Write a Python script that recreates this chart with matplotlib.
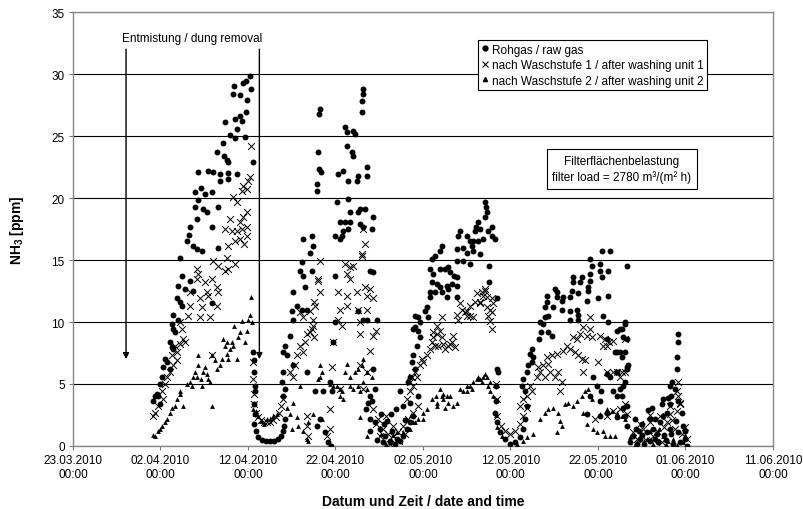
import numpy as np
import pandas as pd
import matplotlib
matplotlib.use("Agg")
import matplotlib.pyplot as plt
import matplotlib.dates as mdates
from matplotlib.lines import Line2D

plt.rcParams['font.family'] = ['Liberation Sans', 'DejaVu Sans']
plt.rcParams['mathtext.fontset'] = 'custom'
plt.rcParams['mathtext.rm'] = 'Liberation Sans'
plt.rcParams['mathtext.bf'] = 'Liberation Sans:bold'

# days after 23.03.2010 00:00, NH3 in ppm
raw_gas = [
    (20.2, 29.8), (19.8, 29.4), (19.4, 29.3), (18.4, 29.0), (18.3, 28.4), (19.1, 28.3), (19.9, 27.9),
    (19.8, 26.9), (19.1, 26.6), (18.5, 26.4), (17.4, 26.1), (19.3, 26.2), (17.9, 25.1), (18.5, 24.8),
    (19.7, 24.9), (17.1, 24.4), (16.5, 23.7), (17.6, 23.1), (17.7, 22.9), (20.6, 22.9), (14.3, 22.1),
    (15.4, 22.2), (16.0, 22.1), (16.8, 21.9), (17.7, 22.0), (18.7, 21.9), (16.8, 21.4), (17.7, 21.5),
    (13.9, 20.5), (15.1, 20.3), (14.3, 19.8), (15.9, 20.5), (16.6, 19.3), (13.9, 19.3), (14.9, 19.1),
    (15.3, 18.9), (14.2, 18.3), (15.9, 17.7), (13.4, 17.7), (13.0, 16.5), (13.7, 16.1), (14.2, 15.9),
    (14.7, 15.7), (12.2, 15.2), (16.6, 16.0), (12.5, 13.7), (13.4, 13.3), (12.0, 12.9), (12.8, 12.7),
    (13.7, 12.5), (11.9, 11.9), (12.2, 11.6), (12.5, 11.3), (11.4, 10.6), (15.9, 11.5), (11.3, 9.8),
    (11.4, 9.4), (11.7, 9.2), (11.1, 8.4), (11.3, 8.0), (11.4, 7.8), (10.5, 7.0), (10.7, 6.8),
    (10.3, 6.4), (11.1, 6.2), (10.2, 5.6), (9.6, 4.2), (9.4, 4.0), (9.7, 4.0), (9.1, 3.6), (9.9, 3.4),
    (10.0, 5.0), (12.0, 10.2), (13.2, 17.0), (14.6, 20.8), (17.2, 23.4), (18.8, 25.6), (20.4, 28.8),
    # valley 1
    (20.6, 7.6), (20.7, 6.9), (20.7, 6.0), (20.8, 4.8), (20.8, 4.4), (20.7, 3.4), (20.8, 2.6),
    (20.7, 1.8), (20.9, 1.2), (21.1, 0.7), (21.6, 0.5), (22.1, 0.4), (22.5, 0.4), (23.0, 0.4),
    (23.4, 0.6), (23.8, 0.8), (24.0, 1.2), (24.1, 1.6), (24.2, 2.2), (24.0, 4.0), (24.2, 4.6),
    # cycle 2
    (28.2, 27.2), (28.1, 26.8), (33.1, 28.8), (33.1, 28.4), (33.0, 27.8), (33.0, 26.9), (31.1, 25.7),
    (31.3, 25.3), (32.0, 25.4), (32.2, 25.2), (31.3, 24.2), (31.9, 23.7), (32.0, 23.4), (28.0, 23.7),
    (28.1, 22.3), (28.3, 22.1), (30.3, 21.9), (30.9, 22.2), (31.4, 21.4), (32.5, 21.4), (32.6, 21.8),
    (33.6, 22.5), (33.6, 21.8), (27.9, 21.1), (27.9, 20.6), (30.2, 19.7), (31.4, 19.9), (31.7, 18.9),
    (32.6, 18.9), (31.1, 18.1), (31.7, 18.1), (30.5, 18.1), (33.1, 17.7), (32.8, 17.9), (34.3, 18.5),
    (34.2, 17.5), (30.9, 17.3), (31.4, 17.5), (32.8, 19.1), (33.4, 19.1), (26.3, 16.7), (27.3, 16.9),
    (27.4, 16.1), (29.9, 16.9), (30.7, 16.9), (30.5, 16.7), (27.1, 15.6), (26.2, 14.8), (25.9, 14.1),
    (26.3, 13.7), (27.3, 14.1), (29.9, 13.7), (25.1, 12.4), (26.5, 12.8), (25.6, 11.3), (25.1, 10.2),
    (26.2, 11.0), (26.7, 11.0), (25.0, 10.9), (24.8, 8.9), (24.2, 8.1), (24.0, 7.6), (24.5, 7.3),
    (25.1, 6.5), (24.0, 6.0), (26.7, 6.0), (23.9, 5.2), (29.7, 8.4), (29.9, 10.0), (33.1, 10.2),
    (33.6, 10.2), (27.7, 4.4), (28.6, 4.4), (29.4, 5.2), (29.6, 4.4), (33.9, 14.1), (34.3, 14.0),
    (32.6, 10.9), (34.7, 10.2), (34.3, 6.2), (34.5, 4.6), (34.2, 3.6), (27.9, 1.6), (28.8, 1.1),
    (29.1, 0.3), (29.5, 0.0), (28.2, 2.2),
    # valley 2
    (33.9, 4.0), (33.7, 3.5), (33.5, 3.0), (33.9, 2.2), (34.5, 1.9), (35.1, 1.4), (35.7, 0.8),
    (36.2, 0.4), (36.8, 0.2), (37.4, 0.4), (37.7, 0.8), (38.2, 1.4), (38.5, 1.9), (38.9, 2.4),
    (37.4, 4.4), (37.7, 3.2), (38.5, 3.5), (39.4, 4.0), (35.4, 0.3), (36.5, 1.2), (35.9, 2.0),
    (34.0, 1.2), (34.8, 0.5), (35.6, 1.8), (36.3, 2.6), (37.0, 0.6), (37.9, 2.1), (36.9, 3.0),
    (35.2, 2.6),
    # cycle 3
    (47.1, 19.7), (47.2, 19.3), (47.3, 18.9), (47.1, 18.5), (46.3, 18.1), (46.1, 17.7), (46.5, 17.5),
    (45.9, 17.3), (47.9, 17.7), (47.4, 17.3), (47.9, 16.9), (48.2, 16.7), (46.9, 16.7), (46.3, 16.5),
    (45.7, 16.5), (45.0, 16.9), (45.4, 16.5), (45.6, 16.1), (44.2, 17.3), (44.0, 16.9), (44.6, 16.0),
    (43.9, 15.9), (45.0, 15.6), (45.7, 15.7), (46.5, 15.5), (42.2, 16.1), (41.9, 15.7), (41.4, 15.3),
    (41.0, 15.1), (45.4, 14.7), (44.6, 14.9), (43.9, 14.9), (40.8, 14.3), (41.1, 13.9), (41.9, 14.3),
    (42.5, 14.3), (42.9, 14.4), (43.1, 14.0), (43.5, 13.7), (43.9, 13.6), (43.3, 13.1), (42.7, 12.9),
    (41.9, 12.8), (41.6, 13.1), (41.0, 13.2), (40.8, 12.4), (41.4, 12.4), (42.2, 12.4), (42.9, 12.7),
    (43.9, 12.9), (42.7, 12.0), (40.8, 12.0), (43.9, 12.0), (40.5, 11.2), (40.2, 10.9), (40.6, 10.4),
    (39.4, 10.4), (39.1, 10.5), (39.7, 10.0), (39.1, 9.6), (38.9, 9.4), (39.4, 9.3), (39.7, 8.8),
    (39.3, 8.1), (38.9, 7.3), (38.7, 6.8), (39.1, 6.2), (38.5, 5.6), (38.3, 5.2), (47.6, 14.5),
    (48.5, 11.9), (48.6, 6.0), (47.6, 13.2),
    # valley 3
    (48.2, 2.7), (48.5, 1.9), (48.8, 1.1), (49.4, 0.6), (49.9, 0.2), (50.5, 0.3), (51.1, 0.7),
    (51.4, 1.4), (51.7, 2.2), (51.9, 3.2), (48.3, 4.8), (48.4, 3.6), (48.5, 6.2),
    # cycle 4
    (60.5, 15.7), (61.4, 15.7), (59.1, 15.1), (59.3, 14.5), (60.2, 14.7), (60.2, 14.1), (61.1, 14.1),
    (63.3, 14.5), (57.1, 13.6), (58.2, 13.6), (57.9, 13.2), (57.1, 13.2), (59.1, 13.9), (59.1, 13.3),
    (58.9, 12.8), (60.5, 13.6), (58.9, 12.5), (57.0, 12.5), (57.7, 12.3), (58.7, 11.7), (60.0, 11.9),
    (61.1, 12.1), (55.1, 12.7), (55.3, 12.4), (54.2, 12.1), (55.3, 12.0), (56.0, 12.0), (54.2, 11.6),
    (54.9, 11.2), (55.9, 11.0), (53.9, 11.2), (56.8, 12.0), (55.9, 11.7), (56.8, 10.9), (57.6, 11.0),
    (57.7, 10.6), (57.7, 10.2), (56.8, 10.2), (54.3, 10.5), (53.9, 10.4), (60.6, 10.5), (61.1, 10.0),
    (61.0, 8.6), (62.2, 9.3), (62.7, 9.4), (61.9, 7.6), (62.7, 7.2), (63.3, 8.6), (53.4, 10.0),
    (53.7, 9.8), (53.5, 9.2), (54.3, 9.2), (54.7, 8.9), (53.3, 8.6), (52.5, 7.8), (52.2, 7.4),
    (52.6, 7.2), (52.5, 6.8), (52.0, 6.5), (51.9, 6.0), (51.4, 5.4), (51.3, 4.8), (51.7, 4.4),
    (59.4, 5.6), (59.9, 4.8), (61.4, 5.6), (61.7, 4.4), (62.2, 4.0), (63.3, 6.2), (59.1, 4.0),
    (60.2, 3.6), (61.0, 2.7), (63.3, 3.2), (62.2, 2.3), (58.7, 2.6), (60.2, 2.4), (63.1, 9.8),
    (62.5, 9.4), (62.2, 7.6), (62.5, 7.6), (63.4, 6.5), (62.2, 6.0), (61.0, 5.8), (60.4, 4.4),
    (62.5, 4.6), (63.1, 5.2),
    # valley 4
    (63.1, 10.0), (62.9, 8.8), (63.1, 7.6), (63.3, 6.4), (62.9, 4.8), (62.8, 4.0), (62.9, 3.1),
    (63.1, 2.4), (63.3, 1.6), (64.0, 0.8), (64.8, 0.6), (65.6, 1.1), (66.3, 1.4), (67.1, 1.9),
    (66.5, 2.2), (67.4, 2.4), (67.3, 3.4), (67.4, 3.8), (68.0, 3.9), (67.9, 2.7), (65.9, 2.2),
    (66.7, 1.0), (68.2, 1.4), (69.1, 1.1), (69.7, 1.6), (69.9, 0.6), (70.2, 0.0), (63.7, 0.3),
    (64.5, 0.2), (68.6, 0.2), (69.1, 9.0), (69.1, 8.4), (69.0, 7.2), (69.0, 6.2), (68.5, 5.2),
    (68.2, 4.8), (68.8, 4.6), (68.3, 4.0), (69.1, 3.6), (68.2, 3.4), (69.6, 2.7), (65.0, 1.8),
    (66.0, 0.4), (67.5, 0.9), (64.3, 1.4), (68.9, 2.0), (65.3, 0.2), (66.9, 0.3), (64.2, 2.2),
    (65.7, 2.9), (66.2, 3.1), (67.8, 0.5), (68.4, 1.0), (64.7, 1.2), (66.5, 0.6), (65.0, 0.9),
    (69.4, 0.3), (70.0, 1.2),
]

wash_1 = [
    (20.4, 24.2), (20.2, 21.7), (20.0, 21.4), (19.4, 21.0), (19.9, 20.7), (19.3, 20.6), (18.3, 20.1),
    (18.7, 19.7), (19.9, 18.9), (19.4, 18.5), (19.1, 18.1), (18.0, 18.3), (19.9, 17.7), (19.3, 17.5),
    (18.7, 17.3), (18.2, 17.3), (17.4, 17.5), (19.9, 16.9), (19.1, 16.7), (18.5, 16.5), (17.7, 16.1),
    (19.5, 16.3), (16.0, 14.9), (17.6, 15.2), (16.6, 14.5), (17.4, 14.1), (18.5, 14.7), (17.7, 14.3),
    (14.2, 14.3), (14.3, 13.9), (14.2, 13.5), (15.1, 13.2), (15.9, 13.5), (16.5, 12.8), (15.3, 12.4),
    (16.6, 12.4), (13.4, 12.4), (14.5, 11.9), (15.4, 12.1), (14.7, 11.2), (16.5, 11.3), (15.7, 10.4),
    (14.5, 10.4), (13.4, 11.3), (13.1, 10.5), (12.2, 10.0), (12.5, 9.4), (12.6, 8.6), (12.2, 8.2),
    (12.8, 8.4), (11.7, 8.1), (11.9, 7.6), (11.3, 7.3), (11.9, 6.9), (11.4, 6.5), (11.1, 6.0),
    (10.7, 5.6), (10.5, 5.0), (10.2, 4.4), (10.3, 3.8), (9.7, 3.2), (9.4, 2.7), (9.1, 2.4),
    (15.9, 7.3),
    # valley 1
    (20.6, 6.8), (20.6, 5.4), (20.7, 4.2), (20.7, 3.4), (20.9, 2.7), (21.1, 2.3), (21.5, 2.1),
    (21.8, 1.9), (22.2, 1.9), (22.5, 1.9), (22.9, 2.1), (23.2, 2.3), (23.5, 2.7), (23.8, 3.2),
    (24.0, 3.8),
    # cycle 2
    (28.2, 14.9), (28.0, 13.3), (28.2, 12.4), (27.6, 11.6), (27.1, 10.9), (27.4, 10.2), (27.3, 9.4),
    (27.6, 8.8), (26.7, 9.0), (26.5, 8.4), (25.9, 8.1), (26.3, 7.6), (25.6, 7.3), (25.4, 6.5),
    (24.8, 6.0), (25.1, 5.6), (31.1, 14.7), (31.3, 13.9), (32.0, 14.5), (31.7, 13.5), (30.3, 12.4),
    (31.3, 12.1), (32.5, 12.4), (33.4, 12.8), (33.6, 12.1), (30.5, 11.0), (31.3, 11.3), (30.3, 10.2),
    (30.7, 9.7), (32.6, 11.0), (32.8, 10.0), (32.8, 9.0), (33.1, 17.5), (33.0, 15.3), (31.7, 14.4),
    (29.7, 8.4), (29.6, 6.4), (32.8, 6.5), (33.6, 6.0), (30.5, 4.6), (33.1, 4.6), (29.4, 3.0),
    (26.7, 1.6), (26.9, 0.8), (33.4, 16.3), (33.0, 15.5), (33.9, 12.7), (34.3, 11.9), (33.6, 11.0),
    (34.3, 8.9), (34.6, 9.3), (34.0, 7.7), (28.0, 13.5), (27.7, 11.3), (27.4, 9.7), (27.1, 9.2),
    (25.9, 10.8), (26.3, 10.4), (29.4, 1.4), (29.0, 0.8), (26.7, 2.4),
    # valley 2
    (34.3, 3.0), (34.9, 2.2), (35.4, 1.4), (36.0, 1.0), (36.6, 0.8), (37.1, 1.1), (37.7, 1.6),
    (38.3, 2.2), (38.9, 2.7), (39.4, 3.2), (35.1, 0.8), (36.6, 1.6), (34.6, 1.8), (35.8, 2.4),
    (37.3, 0.4), (38.0, 1.0), (36.2, 0.2),
    # cycle 3
    (46.2, 12.3), (46.7, 12.4), (47.1, 12.5), (47.3, 12.0), (47.9, 11.9), (48.0, 11.5), (47.7, 11.0),
    (47.4, 10.5), (47.7, 10.1), (47.9, 9.4), (47.3, 11.2), (46.5, 11.5), (45.9, 11.6), (45.4, 11.3),
    (45.0, 10.9), (44.2, 11.5), (44.5, 11.0), (43.9, 10.6), (44.0, 10.2), (45.0, 10.5), (45.7, 10.4),
    (43.4, 8.9), (43.3, 8.4), (42.9, 8.1), (42.5, 7.8), (42.2, 8.8), (41.9, 9.3), (41.6, 9.0),
    (41.1, 8.8), (41.0, 8.4), (41.7, 8.1), (42.3, 8.2), (41.4, 8.1), (40.8, 7.8), (40.5, 7.3),
    (39.9, 7.0), (39.7, 6.5), (39.1, 6.0), (38.7, 5.6), (38.5, 5.2), (47.1, 12.7), (46.9, 12.1),
    (46.5, 11.6), (44.8, 10.8), (45.4, 10.5), (42.2, 10.4), (41.6, 9.7), (41.1, 9.2), (43.1, 8.2),
    (43.7, 8.0), (40.0, 6.8), (39.3, 5.6), (38.9, 4.8), (38.5, 4.4), (38.2, 3.8), (47.9, 10.8),
    # valley 3
    (48.5, 2.4), (48.9, 1.6), (49.4, 1.2), (49.9, 1.0), (50.5, 1.2), (51.1, 1.8), (51.4, 2.4),
    (51.9, 3.1), (48.5, 3.8), (48.3, 5.0),
    # cycle 4
    (59.1, 10.4), (58.3, 9.6), (59.1, 9.4), (57.9, 9.0), (58.7, 8.9), (59.3, 8.8), (57.1, 8.8),
    (57.6, 8.6), (60.2, 8.9), (60.8, 8.6), (61.0, 8.1), (60.6, 8.1), (56.5, 8.1), (56.8, 7.8),
    (56.0, 7.7), (57.4, 7.6), (57.7, 7.3), (58.2, 7.0), (58.5, 6.9), (55.3, 7.4), (54.7, 7.3),
    (54.2, 7.2), (54.3, 6.6), (53.7, 6.5), (53.1, 6.4), (53.4, 6.0), (53.0, 5.6), (53.9, 5.6),
    (54.5, 6.0), (55.1, 5.6), (55.4, 6.0), (55.9, 5.2), (55.7, 4.4), (52.2, 4.8), (52.5, 4.4),
    (51.9, 4.0), (51.4, 3.8), (51.1, 3.2), (61.7, 8.5), (61.2, 8.4), (61.7, 6.0), (61.0, 6.0),
    (62.2, 6.0), (62.8, 6.0), (63.1, 6.0), (62.5, 5.6), (63.1, 8.6), (60.0, 6.8), (59.7, 2.2),
    (61.0, 2.4), (61.7, 2.8), (62.5, 3.0), (63.3, 2.6), (58.3, 6.0),
    # valley 4
    (63.1, 3.4), (64.0, 1.1), (65.1, 1.4), (66.3, 0.8), (67.1, 2.4), (67.9, 1.9), (68.2, 2.6),
    (69.0, 2.8), (69.4, 3.5), (69.1, 4.0), (68.8, 1.4), (69.6, 1.0), (70.2, 0.6), (68.2, 3.2),
    (69.4, 3.4), (69.1, 5.2), (69.0, 4.4), (65.5, 0.5), (66.8, 1.2), (64.5, 0.6), (65.9, 1.9),
    (67.5, 1.5), (68.5, 2.1), (66.0, 2.5), (64.8, 1.8), (70.0, 1.5), (67.3, 0.3),
]

wash_2 = [
    (9.4, 0.8), (9.7, 1.2), (10.2, 1.6), (10.5, 1.9), (11.1, 2.7), (11.3, 3.1), (11.7, 3.2),
    (11.9, 3.8), (12.2, 4.2), (12.6, 3.2), (13.0, 5.0), (13.4, 5.2), (13.6, 4.8), (13.7, 5.6),
    (13.9, 6.0), (14.3, 6.5), (14.3, 7.3), (14.7, 4.8), (14.9, 6.0), (15.1, 6.4), (15.3, 5.8),
    (15.4, 5.4), (15.7, 5.2), (15.9, 3.2), (14.2, 5.6), (14.6, 5.4), (15.9, 7.3), (16.2, 6.9),
    (16.5, 6.2), (16.8, 6.5), (17.0, 7.0), (17.1, 8.6), (17.4, 8.1), (17.6, 7.4), (17.7, 7.0),
    (17.9, 7.8), (18.2, 8.4), (18.3, 8.1), (18.7, 7.0), (18.9, 8.8), (19.1, 9.2), (19.3, 10.1),
    (19.7, 8.4), (19.9, 9.3), (20.2, 10.6), (20.5, 10.0), (20.0, 10.2), (18.4, 9.7), (17.6, 8.4),
    (20.3, 12.0), (12.2, 4.4), (9.1, 0.9), (10.0, 1.4), (10.8, 2.2),
    # valley 1
    (20.6, 3.0), (20.9, 2.8), (21.1, 2.4), (21.5, 2.0), (22.2, 2.2), (22.5, 2.2), (22.9, 2.4),
    (23.3, 2.6), (21.8, 1.8),
    # cycle 2
    (28.2, 6.5), (28.5, 6.0), (28.2, 5.6), (28.0, 5.4), (29.4, 5.0), (31.3, 6.6), (31.1, 6.0),
    (31.7, 5.6), (32.2, 6.0), (32.6, 6.2), (33.0, 6.5), (33.6, 6.0), (30.2, 4.8), (30.7, 4.4),
    (31.7, 4.8), (32.6, 4.8), (32.8, 4.4), (33.1, 5.2), (30.5, 4.0), (30.9, 3.8), (32.8, 2.3),
    (25.6, 2.3), (25.7, 1.6), (26.3, 1.2), (26.9, 0.4), (24.8, 2.6), (24.5, 3.1), (27.4, 2.6),
    (28.5, 2.2), (29.7, 4.8), (30.5, 4.6), (32.0, 4.6), (33.6, 4.6), (34.2, 5.6), (33.1, 7.0),
    (26.9, 1.9), (26.7, 0.6), (25.9, 4.8), (25.1, 3.5), (25.0, 1.4),
    # valley 2
    (33.6, 0.8), (34.7, 0.6), (36.2, 0.3), (37.0, 1.1), (38.2, 1.4), (39.1, 1.9), (40.0, 2.2),
    (35.2, 1.0), (36.6, 0.9), (38.6, 2.5), (35.8, 0.2),
    # cycle 3
    (41.0, 3.8), (41.5, 4.0), (41.6, 3.5), (42.3, 3.8), (42.3, 4.2), (42.9, 3.5), (43.1, 4.0),
    (43.4, 3.2), (43.9, 3.5), (44.2, 4.6), (44.6, 4.4), (45.0, 4.8), (45.4, 4.8), (45.7, 5.2),
    (46.2, 5.4), (46.3, 5.6), (46.7, 5.2), (47.1, 5.8), (47.3, 5.6), (47.7, 5.2), (41.6, 3.2),
    (42.5, 3.1), (39.4, 2.2), (40.0, 2.7), (38.9, 1.9), (38.5, 1.4), (37.7, 1.1), (41.9, 4.6),
    (42.2, 4.0), (42.7, 4.0), (45.0, 4.4), (45.6, 4.6), (46.5, 5.4), (46.9, 5.6), (47.4, 4.8),
    (47.7, 4.4), (48.0, 4.0), (48.3, 2.5), (40.5, 3.0),
    # valley 3
    (48.5, 1.5), (49.0, 0.8), (49.9, 0.0), (50.7, 0.2), (51.4, 0.4), (51.9, 0.7), (52.6, 1.0),
    # cycle 4
    (53.4, 2.2), (53.9, 2.7), (54.3, 3.0), (54.9, 3.1), (55.4, 2.7), (55.7, 2.0), (55.9, 1.6),
    (56.2, 3.4), (56.6, 3.5), (57.1, 3.2), (57.6, 3.6), (58.2, 4.0), (58.5, 4.4), (58.9, 4.6),
    (59.3, 3.8), (58.3, 2.7), (58.7, 1.8), (59.4, 1.4), (59.9, 1.1), (60.6, 1.2), (60.8, 0.8),
    (61.4, 0.8), (61.9, 0.8), (60.2, 2.6), (61.0, 3.0), (61.6, 2.8), (62.2, 2.7), (62.7, 2.4),
    (63.1, 2.2), (55.3, 1.1),
    # valley 4
    (63.7, 0.7), (64.5, 0.3), (65.6, 0.6), (66.3, 0.2), (67.4, 0.8), (68.6, 0.6), (69.7, 0.3),
    (64.9, 1.0), (67.0, 1.4), (68.0, 0.4), (70.0, 0.9), (66.0, 1.2), (64.2, 0.1), (65.2, 0.4),
    (67.8, 0.2), (69.0, 0.1), (66.8, 0.5),
]

series_labels = ["Rohgas / raw gas",
                 "nach Waschstufe 1 / after washing unit 1",
                 "nach Waschstufe 2 / after washing unit 2"]
removal_days = [6.06, 21.3]
tick_days = list(range(0, 81, 10))

start = mdates.date2num(pd.Timestamp("2010-03-23"))

fig = plt.figure(figsize=(8.04, 5.10), dpi=100)
ax = fig.add_axes([73 / 804, 63 / 510, 700 / 804, 434 / 510])

raw = np.array(raw_gas)
w1 = np.array(wash_1)
w2 = np.array(wash_2)
ax.scatter(start + raw[:, 0], raw[:, 1], s=18, marker='o', color='black', linewidths=0, zorder=3)
ax.scatter(start + w1[:, 0], w1[:, 1], s=24, marker='x', color='black', linewidths=0.7, zorder=4)
ax.scatter(start + w2[:, 0], w2[:, 1], s=12, marker='^', color='black', linewidths=0, zorder=5)

ax.set_xlim(start, start + 80)
ax.set_ylim(0, 35)
ax.set_xticks([start + d for d in tick_days])
ax.xaxis.set_major_formatter(mdates.DateFormatter('%d.%m.%Y\n%H:%M'))
ax.set_yticks(range(0, 36, 5))
ax.yaxis.grid(True, color='black', linewidth=0.8)
ax.set_axisbelow(True)
ax.tick_params(labelsize=8.5, length=3, color='#777777', pad=3)

for sp in ax.spines.values():
    sp.set_color('#888888')
    sp.set_linewidth(1.0)

ax.set_xlabel("Datum und Zeit / date and time", fontsize=10, fontweight='bold', labelpad=10)
ax.set_ylabel(r"NH$_\mathbf{3}$ [ppm]", fontsize=10, fontweight='bold', labelpad=18)

# dung removal arrows
for d in removal_days:
    ax.annotate('', xy=(start + d, 7.0), xytext=(start + d, 32.0),
                arrowprops=dict(arrowstyle='-|>', color='black', lw=1.0,
                                mutation_scale=9, shrinkA=0, shrinkB=0))
ax.text(start + 5.6, 32.9, "Entmistung / dung removal", fontsize=8.5, va='center', ha='left')

handles = [Line2D([], [], ls='none', marker='o', color='black', markersize=3.5),
           Line2D([], [], ls='none', marker='x', color='black', markersize=4.5, markeredgewidth=0.8),
           Line2D([], [], ls='none', marker='^', color='black', markersize=3)]
leg = ax.legend(handles, series_labels, loc='upper left', bbox_to_anchor=(0.5786, 0.9355),
                fontsize=8.5, frameon=True, fancybox=False, edgecolor='black', framealpha=1,
                borderpad=0.3, labelspacing=0.3, handlelength=0.6, handletextpad=0.3,
                borderaxespad=0)
leg.get_frame().set_linewidth(0.8)

ax.text(0.784, 0.638, "Filterflächenbelastung\nfilter load = 2780 m³/(m² h)",
        transform=ax.transAxes, fontsize=8.5, ha='center', va='center', multialignment='center',
        linespacing=1.4,
        bbox=dict(boxstyle='square,pad=0.45', fc='white', ec='black', lw=0.8))

fig.savefig("out.png", dpi=100)
